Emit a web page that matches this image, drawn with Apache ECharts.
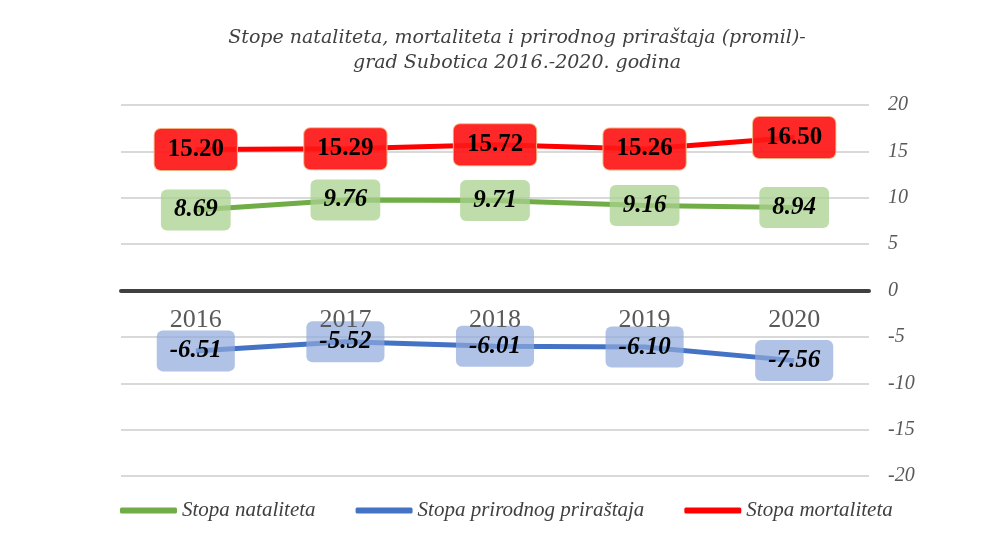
<!DOCTYPE html>
<html>
<head>
<meta charset="utf-8">
<script src="https://cdn.jsdelivr.net/npm/echarts@6/dist/echarts.min.js"></script>
<style>
  html, body { margin: 0; padding: 0; background: #fff; }
  #chart { width: 990px; height: 538px; }
</style>
</head>
<body>
<div id="chart"></div>
<script>
  // podaci
  const godine = ['2016', '2017', '2018', '2019', '2020'];
  const natalitet = [8.69, 9.76, 9.71, 9.16, 8.94];
  const prirast = [-6.51, -5.52, -6.01, -6.10, -7.56];
  const mortalitet = [15.20, 15.29, 15.72, 15.26, 16.50];

  const serif = '"Liberation Serif", "DejaVu Serif", serif';

  const chart = echarts.init(document.getElementById('chart'));

  // oznaka vrednosti u zaobljenom pravougaoniku
  function boxLabel(bg, border, italic) {
    return {
      show: true,
      position: 'inside',
      formatter: p => p.value.toFixed(2),
      fontFamily: serif,
      fontSize: 25,
      fontWeight: 'bold',
      fontStyle: italic ? 'italic' : 'normal',
      color: '#000',
      backgroundColor: bg,
      borderColor: border,
      borderWidth: border ? 1 : 0,
      borderRadius: 6,
      padding: [10, 13, 6, 13]
    };
  }

  const option = {
    animation: false,
    title: {
      text: 'Stope nataliteta, mortaliteta i prirodnog priraštaja (promil)-\ngrad Subotica 2016.-2020. godina',
      left: 512,
      top: 21,
      textAlign: 'center',
      textStyle: {
        fontFamily: '"DejaVu Serif", serif',
        fontStyle: 'italic',
        fontWeight: 'normal',
        fontSize: 19,
        lineHeight: 25,
        color: '#404040'
      }
    },
    legend: {
      top: 495,
      left: 115,
      itemWidth: 57,
      itemHeight: 6,
      itemGap: 40,
      icon: 'roundRect',
      data: ['Stopa nataliteta', 'Stopa prirodnog priraštaja', 'Stopa mortaliteta'],
      textStyle: {
        fontFamily: serif,
        fontStyle: 'italic',
        fontSize: 21,
        color: '#404040'
      }
    },
    grid: { left: 121, right: 121, top: 105, bottom: 62 },
    xAxis: {
      type: 'category',
      data: godine,
      zlevel: 1, // godine iznad okvira sa vrednostima
      offset: -185.5, // osa pomerena na nulu, zajedno sa oznakama godina
      axisLine: { onZero: false, lineStyle: { color: '#404040', width: 4 } },
      axisTick: { show: false },
      axisLabel: {
        margin: 17,
        fontFamily: serif,
        fontSize: 26,
        color: '#595959'
      }
    },
    yAxis: {
      type: 'value',
      position: 'right',
      min: -20,
      max: 20,
      interval: 5,
      axisLine: { show: false },
      axisTick: { show: false },
      splitLine: { lineStyle: { color: '#d9d9d9', width: 2 } },
      axisLabel: {
        margin: 19,
        fontFamily: serif,
        fontStyle: 'italic',
        fontSize: 20,
        color: '#595959'
      }
    },
    series: [
      {
        name: 'Stopa nataliteta',
        type: 'line',
        data: natalitet,
        symbol: 'circle',
        symbolSize: 0.1,
        itemStyle: { color: '#70ad47' },
        lineStyle: { color: '#70ad47', width: 5 },
        label: boxLabel('rgba(169,209,142,0.75)', null, true)
      },
      {
        name: 'Stopa prirodnog priraštaja',
        type: 'line',
        data: prirast,
        symbol: 'circle',
        symbolSize: 0.1,
        itemStyle: { color: '#4472c4' },
        lineStyle: { color: '#4472c4', width: 5 },
        label: boxLabel('rgba(143,170,220,0.7)', null, true)
      },
      {
        name: 'Stopa mortaliteta',
        type: 'line',
        data: mortalitet,
        symbol: 'circle',
        symbolSize: 0.1,
        itemStyle: { color: '#ff0000' },
        lineStyle: { color: '#ff0000', width: 5 },
        label: boxLabel('rgba(255,22,22,0.92)', '#f4b183', false)
      }
    ]
  };

  chart.setOption(option);
</script>
</body>
</html>
